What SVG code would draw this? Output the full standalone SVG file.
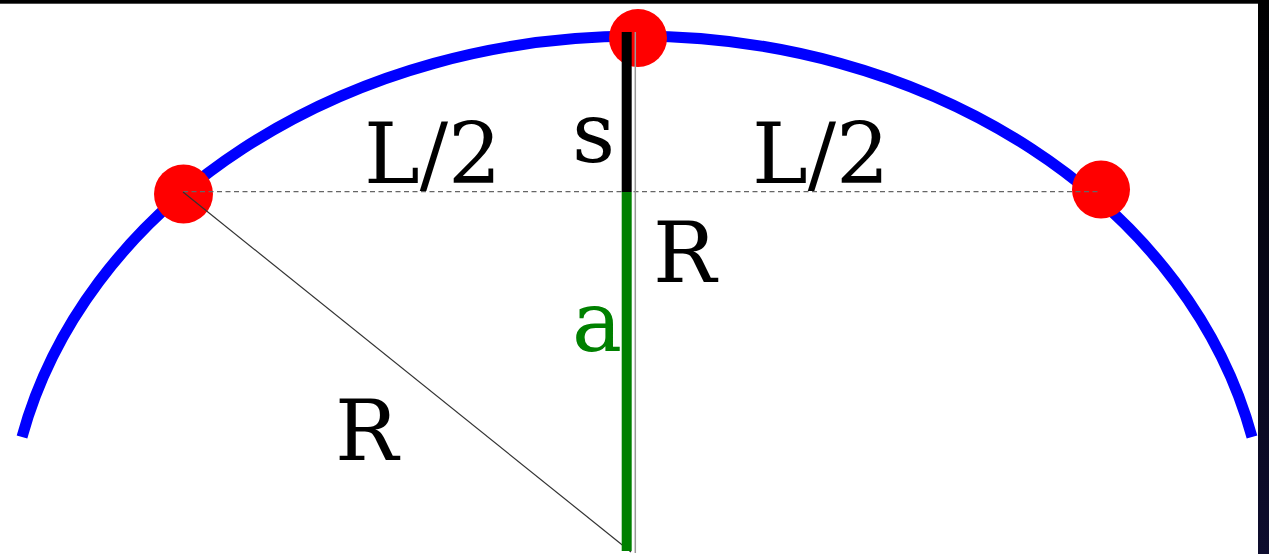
<svg xmlns="http://www.w3.org/2000/svg" width="1269" height="554" viewBox="0 0 1269 554">
  <defs>
    <linearGradient id="edge" x1="0" y1="0" x2="0" y2="1">
      <stop offset="0" stop-color="#000000"/>
      <stop offset="1" stop-color="#0e0d2e"/>
    </linearGradient>
    <style>
      .lbl { font-family: "DejaVu Serif", "Liberation Serif", serif; font-size: 84px; fill: #000; }
      .dot { fill: #ff0000; }
    </style>
  </defs>
  <rect x="0" y="0" width="1269" height="554" fill="#ffffff"/>
  <rect x="0" y="0" width="1269" height="3.7" fill="#000000"/>
  <rect x="1258" y="0" width="11" height="554" fill="url(#edge)"/>

  <g id="arc">
    <path d="M 22,437 A 630,512 0 0 1 1252,437" fill="none" stroke="#0000ff" stroke-width="11"/>
  </g>

  <g id="node-top"><circle class="dot" cx="638" cy="38" r="29"/></g>
  <g id="node-left"><circle class="dot" cx="183.5" cy="194" r="29.5"/></g>
  <g id="node-right"><circle class="dot" cx="1101" cy="189.5" r="29"/></g>

  <g id="connectors">
    <line x1="183" y1="191.7" x2="1098" y2="191.7" stroke="#666" stroke-width="1.3" stroke-dasharray="5,3.5"/>
    <line x1="183" y1="192" x2="631" y2="552" stroke="#333" stroke-width="1.2"/>
    <line x1="635.3" y1="32" x2="635.3" y2="553" stroke="#999" stroke-width="1.5"/>
    <line x1="626.7" y1="32" x2="626.7" y2="192" stroke="#000" stroke-width="10"/>
    <line x1="626.7" y1="192" x2="626.7" y2="551" stroke="#008000" stroke-width="10"/>
  </g>

  <g id="labels">
    <text class="lbl" x="364" y="183">L/2</text>
    <text class="lbl" x="752" y="183">L/2</text>
    <text class="lbl" x="572" y="162">s</text>
    <text class="lbl" x="653" y="282">R</text>
    <text class="lbl" x="572" y="351" style="fill:#008000">a</text>
    <text class="lbl" x="335" y="460">R</text>
  </g>
</svg>
